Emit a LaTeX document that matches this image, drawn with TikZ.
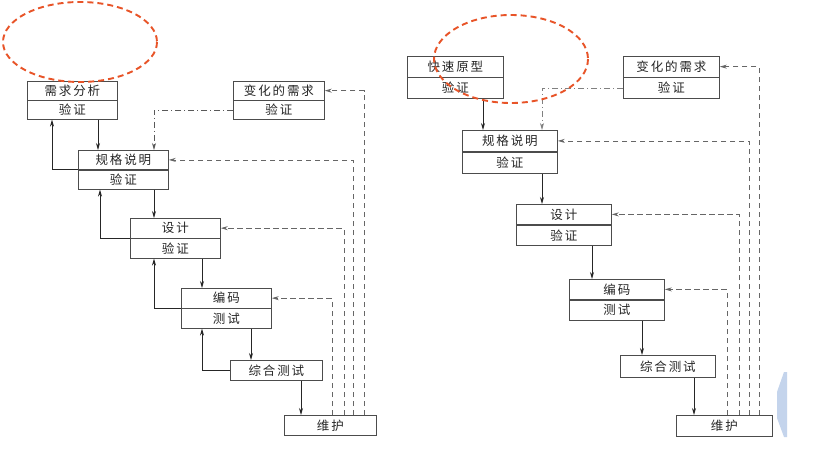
\documentclass[tikz,border=0pt]{standalone}
\usepackage{fontspec}
\newfontfamily\cjk[LetterSpace=15]{Noto Sans CJK SC}
\usetikzlibrary{arrows.meta}
\definecolor{redorange}{RGB}{232,84,40}
\definecolor{paleblue}{RGB}{196,212,236}
\begin{document}
\begin{tikzpicture}[x=1pt,y=-1pt,
  box/.style={draw=black!70, line width=0.8pt, inner sep=0pt, anchor=north west,
              font=\cjk\fontsize{12.5}{13}\selectfont, text=black!85},
  lbox/.style={box, minimum width=90pt},
  rbox/.style={box, minimum width=95pt},
  arr/.style={-{Stealth[length=7pt,width=4pt]}, line width=0.8pt, draw=black!85},
  dsh/.style={arr, dash pattern=on 5.5pt off 3.5pt, draw=black!60},
  dshd/.style={arr, dash pattern=on 6pt off 3pt on 1pt off 3pt, draw=black!65},
  redell/.style={draw=redorange, line width=1.9pt, dash pattern=on 6pt off 4pt}]
\useasboundingbox (0,0) rectangle (823,463);
\fill[white] (0,0) rectangle (823,463);

% ---------------- left diagram ----------------
\node[lbox, minimum height=18.5pt] (req1) at (27,81) {需求分析};
\node[lbox, minimum height=18.5pt] (req2) at (req1.south west) {验证};
\node[lbox, minimum width=91pt, minimum height=18.5pt] (chgL1) at (233,81) {变化的需求};
\node[lbox, minimum width=91pt, minimum height=18.5pt] (chgL2) at (chgL1.south west) {验证};
\node[lbox, minimum height=19pt] (spec1) at (78,150) {规格说明};
\node[lbox, minimum height=19pt] (spec2) at (spec1.south west) {验证};
\node[lbox, minimum height=19.5pt] (des1) at (130,218) {设计};
\node[lbox, minimum height=19.5pt] (des2) at (des1.south west) {验证};
\node[lbox, minimum height=19.5pt] (code1) at (181,288) {编码};
\node[lbox, minimum height=19.5pt] (code2) at (code1.south west) {测试};
\node[lbox, minimum width=92pt, minimum height=20pt] (int) at (230,360) {综合测试};
\node[lbox, minimum width=92pt, minimum height=20pt] (mnt) at (284,415) {维护};

% forward arrows
\draw[arr] ([xshift=71]req2.south west) -- ([xshift=71]req2.south west |- spec1.north);
\draw[arr] ([xshift=76]spec2.south west) -- ([xshift=76]spec2.south west |- des1.north);
\draw[arr] ([xshift=72]des2.south west) -- ([xshift=72]des2.south west |- code1.north);
\draw[arr] ([xshift=70]code2.south west) -- ([xshift=70]code2.south west |- int.north);
\draw[arr] ([xshift=71]int.south west) -- ([xshift=71]int.south west |- mnt.north);
% feedback arrows
\draw[arr] (spec1.south west) -| ([xshift=25]req2.south west);
\draw[arr] (des1.south west) -| ([xshift=22]spec2.south west);
\draw[arr] (code1.south west) -| ([xshift=24]des2.south west);
\draw[arr] (int.west) -| ([xshift=21]code2.south west);
% changed requirements
\draw[dshd] (chgL2.west) -| ([xshift=76]spec1.north west);
% maintenance
\draw[dsh] ([xshift=48]mnt.north west) |- (code1.east);
\draw[dsh] ([xshift=60]mnt.north west) |- (des1.east);
\draw[dsh] ([xshift=69]mnt.north west) |- (spec1.east);
\draw[dsh] ([xshift=80]mnt.north west) |- (chgL1.east);

\draw[redell] (80,42) ellipse [x radius=77, y radius=40];

% ---------------- right diagram ----------------
\node[rbox, minimum width=96pt, minimum height=20.5pt] (pro1) at (407,56) {快速原型};
\node[rbox, minimum width=96pt, minimum height=20.5pt] (pro2) at (pro1.south west) {验证};
\node[rbox, minimum width=96pt, minimum height=20.5pt] (chgR1) at (623,56) {变化的需求};
\node[rbox, minimum width=96pt, minimum height=20.5pt] (chgR2) at (chgR1.south west) {验证};
\node[rbox, minimum height=21pt] (specR1) at (462,130) {规格说明};
\node[rbox, minimum height=21pt] (specR2) at (specR1.south west) {验证};
\node[rbox, minimum height=20pt] (desR1) at (516,204) {设计};
\node[rbox, minimum height=20pt] (desR2) at (desR1.south west) {验证};
\node[rbox, minimum height=20pt] (codeR1) at (569,279) {编码};
\node[rbox, minimum height=20pt] (codeR2) at (codeR1.south west) {测试};
\node[rbox, minimum height=22pt] (intR) at (620,355) {综合测试};
\node[rbox, minimum width=96pt, minimum height=21pt] (mntR) at (676,415) {维护};

\draw[arr] ([xshift=76]pro2.south west) -- ([xshift=76]pro2.south west |- specR1.north);
\draw[arr] ([xshift=80]specR2.south west) -- ([xshift=80]specR2.south west |- desR1.north);
\draw[arr] ([xshift=76]desR2.south west) -- ([xshift=76]desR2.south west |- codeR1.north);
\draw[arr] ([xshift=73]codeR2.south west) -- ([xshift=73]codeR2.south west |- intR.north);
\draw[arr] ([xshift=74]intR.south west) -- ([xshift=74]intR.south west |- mntR.north);

\draw[dshd, draw=black!50] (chgR2.west) -| ([xshift=80]specR1.north west);

\draw[dsh] ([xshift=51]mntR.north west) |- (codeR1.east);
\draw[dsh] ([xshift=63]mntR.north west) |- (desR1.east);
\draw[dsh] ([xshift=73]mntR.north west) |- (specR1.east);
\draw[dsh] ([xshift=83]mntR.north west) |- (chgR1.east);

\draw[redell] (511,59) ellipse [x radius=77, y radius=44];

% blue fragment at right edge
\fill[paleblue] (784,372) -- (777,392) -- (777,418) -- (784,437) -- (787,437) -- (787,372) -- cycle;
\end{tikzpicture}
\end{document}
